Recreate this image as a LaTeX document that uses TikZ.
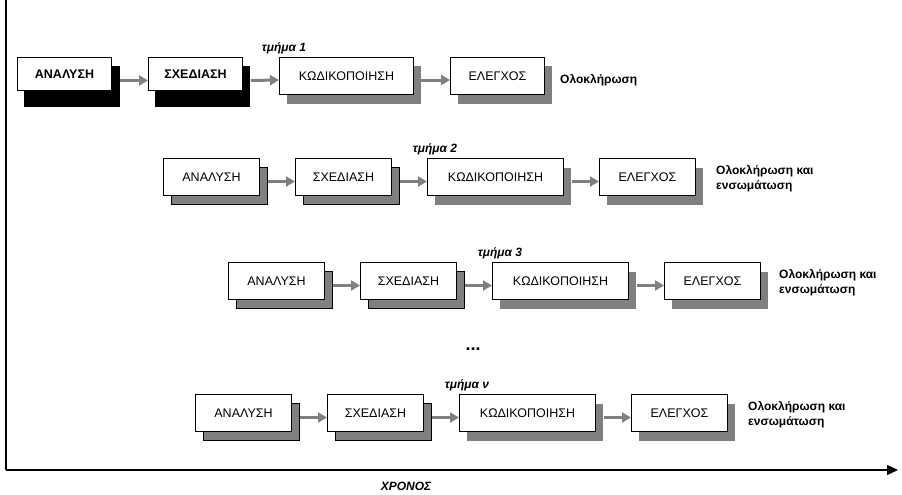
\documentclass[tikz,border=0pt]{standalone}
\usepackage{fontspec}
\setmainfont{Liberation Sans}
\usetikzlibrary{arrows.meta,positioning,shadows,backgrounds}
\definecolor{shgray}{RGB}{128,128,128}
\tikzset{
  arr/.style={-{Triangle[length=9pt,width=10pt]}, line width=3pt, draw=shgray},
  axis/.style={-{Triangle[length=11pt,width=10pt]}, line width=1.5pt},
  lbox/.style={draw, fill=white, line width=1pt, inner sep=0pt,
               minimum width=96pt, minimum height=37pt,
               font=\fontsize{12.5}{15}\selectfont},
  sbox/.style={lbox, drop shadow={shadow xshift=7.5pt, shadow yshift=-9pt,
               fill=shgray, draw=black, line width=0.7pt, opacity=1}},
  gbox/.style={lbox, drop shadow={shadow xshift=7.5pt, shadow yshift=-9pt,
               fill=shgray, opacity=1}},
  bbox/.style={lbox, minimum width=94pt, minimum height=33pt,
               font=\bfseries\fontsize{12.5}{15}\selectfont},
  done/.style={align=left, inner sep=0pt, font=\bfseries\fontsize{12}{15.5}\selectfont},
  part/.style={inner sep=0pt, font=\bfseries\itshape\fontsize{12}{14}\selectfont},
}
\begin{document}
\begin{tikzpicture}[x=1pt,y=-1pt]
\useasboundingbox (0,0) rectangle (902,495);
% time axis
\coordinate (top) at (6,0);
\coordinate (origin) at (6,470);
\coordinate (tend) at (898,470);
\draw[line width=2pt] (top) -- (origin);
\draw[axis] (origin) -- (tend);
\node[part, font=\bfseries\itshape\fontsize{12}{14}\selectfont] (time) at (406,486) {ΧΡΟΝΟΣ};

% part 1
\node[bbox, anchor=north west] (an1) at (17,57) {ΑΝΑΛΥΣΗ};
\node[bbox, anchor=north west] (sx1) at ([xshift=36pt]an1.north east) {ΣΧΕΔΙΑΣΗ};
\node[gbox, anchor=north west, minimum width=134pt] (kd1) at ([xshift=36pt]sx1.north east) {ΚΩΔΙΚΟΠΟΙΗΣΗ};
\node[gbox, anchor=north west, minimum width=94pt] (el1) at ([xshift=36pt]kd1.north east) {ΕΛΕΓΧΟΣ};
\node[part, anchor=base] (p1) at ([shift={(5pt,5.5pt)}]kd1.north west) {τμήμα 1};
\node[done, right=15pt of el1, yshift=-4pt] (end1) {Ολοκλήρωση};
\draw[arr] ([shift={(8pt,-6.5pt)}]an1.east) -- ([yshift=-6.5pt]sx1.west);
\draw[arr] ([shift={(8pt,-6.5pt)}]sx1.east) -- ([yshift=-4pt]kd1.west);
\draw[arr] ([shift={(7pt,-4pt)}]kd1.east) -- ([yshift=-4pt]el1.west);
\begin{scope}[on background layer]
\fill ([shift={(7pt,-9pt)}]an1.north west) rectangle ([shift={(8pt,-16pt)}]an1.south east);
\fill ([shift={(7pt,-9pt)}]sx1.north west) rectangle ([shift={(7pt,-16pt)}]sx1.south east);
\end{scope}

% part 2
\node[sbox, anchor=north west] (an2) at (163,158) {ΑΝΑΛΥΣΗ};
\node[sbox, right=35pt of an2] (sx2) {ΣΧΕΔΙΑΣΗ};
\node[gbox, right=35pt of sx2, minimum width=136pt] (kd2) {ΚΩΔΙΚΟΠΟΙΗΣΗ};
\node[gbox, right=35pt of kd2] (el2) {ΕΛΕΓΧΟΣ};
\node[part, anchor=base] (p2) at ([shift={(8pt,5.5pt)}]kd2.north west) {τμήμα 2};
\node[done, right=20pt of el2, yshift=-1.5pt] (end2) {Ολοκλήρωση και\\ενσωμάτωση};
\draw[arr] ([shift={(8pt,-4.5pt)}]an2.east) -- ([yshift=-4.5pt]sx2.west);
\draw[arr] ([shift={(8pt,-4.5pt)}]sx2.east) -- ([yshift=-4.5pt]kd2.west);
\draw[arr] ([shift={(8pt,-4.5pt)}]kd2.east) -- ([yshift=-4.5pt]el2.west);

% part 3
\node[sbox, anchor=north west] (an3) at (228,262) {ΑΝΑΛΥΣΗ};
\node[sbox, right=35pt of an3] (sx3) {ΣΧΕΔΙΑΣΗ};
\node[gbox, right=35pt of sx3, minimum width=136pt] (kd3) {ΚΩΔΙΚΟΠΟΙΗΣΗ};
\node[gbox, right=35pt of kd3] (el3) {ΕΛΕΓΧΟΣ};
\node[part, anchor=base] (p3) at ([shift={(8pt,5.5pt)}]kd3.north west) {τμήμα 3};
\node[done, right=18pt of el3, yshift=-1.5pt] (end3) {Ολοκλήρωση και\\ενσωμάτωση};
\draw[arr] ([shift={(8pt,-4.5pt)}]an3.east) -- ([yshift=-4.5pt]sx3.west);
\draw[arr] ([shift={(8pt,-4.5pt)}]sx3.east) -- ([yshift=-4.5pt]kd3.west);
\draw[arr] ([shift={(8pt,-4.5pt)}]kd3.east) -- ([yshift=-4.5pt]el3.west);

\node[font=\bfseries\fontsize{18}{20}\selectfont, inner sep=0pt] (dots) at (473,349) {...};

% part n
\node[sbox, anchor=north west] (an4) at (195,394) {ΑΝΑΛΥΣΗ};
\node[sbox, right=35pt of an4] (sx4) {ΣΧΕΔΙΑΣΗ};
\node[gbox, right=35pt of sx4, minimum width=136pt] (kd4) {ΚΩΔΙΚΟΠΟΙΗΣΗ};
\node[gbox, right=35pt of kd4] (el4) {ΕΛΕΓΧΟΣ};
\node[part, anchor=base] (p4) at ([shift={(8pt,5.5pt)}]kd4.north west) {τμήμα ν};
\node[done, right=20pt of el4, yshift=-1.5pt] (end4) {Ολοκλήρωση και\\ενσωμάτωση};
\draw[arr] ([shift={(8pt,-4.5pt)}]an4.east) -- ([yshift=-4.5pt]sx4.west);
\draw[arr] ([shift={(8pt,-4.5pt)}]sx4.east) -- ([yshift=-4.5pt]kd4.west);
\draw[arr] ([shift={(8pt,-4.5pt)}]kd4.east) -- ([yshift=-4.5pt]el4.west);
\end{tikzpicture}
\end{document}
